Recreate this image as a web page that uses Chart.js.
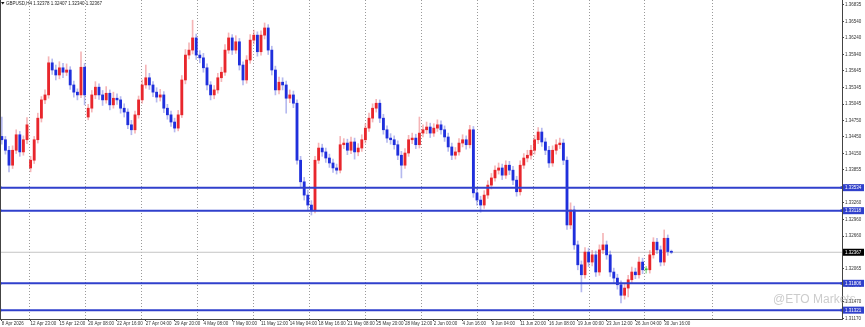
<!DOCTYPE html>
<html>
<head>
<meta charset="utf-8">
<script src="https://cdn.jsdelivr.net/npm/chart.js@4.4.1/dist/chart.umd.min.js"></script>
<style>
    body { margin: 0; background: #fff; }
    #wrap { position: relative; width: 865px; height: 327px; }
    #wm {
        position: absolute; left: 773px; top: 292px;
        font: 12px "Liberation Sans", Arial, sans-serif;
        color: rgba(170, 170, 170, 0.6); white-space: nowrap;
    }
</style>
</head>
<body>
<div id="wrap">
    <canvas id="priceChart"></canvas>
    <div id="wm">@ETO Markets</div>
</div>
<script>
const symbolTitle = "GBPUSD,H4 1.32378 1.32407 1.32340 1.32367";

// etichette tempo, una ogni 8 barre
const timeLabels = [
    "8 Apr 2026", "12 Apr 23:00", "15 Apr 12:00", "20 Apr 08:00", "22 Apr 16:00",
    "27 Apr 04:00", "29 Apr 20:00", "4 May 08:00", "7 May 00:00", "11 May 12:00",
    "14 May 04:00", "18 May 16:00", "21 May 08:00", "25 May 20:00", "28 May 12:00",
    "2 Jun 00:00", "4 Jun 16:00", "9 Jun 04:00", "11 Jun 20:00", "16 Jun 08:00",
    "19 Jun 00:00", "23 Jun 12:00", "26 Jun 04:00", "30 Jun 16:00",
];

const priceTicks = [
    1.31170, 1.31470, 1.31770, 1.32065, 1.32360, 1.32660, 1.32960, 1.33260,
    1.33555, 1.33855, 1.34150, 1.34450, 1.34750, 1.35045, 1.35345, 1.35645,
    1.35940, 1.36240, 1.36540, 1.36835,
];

// livelli orizzontali (blu) e prezzo corrente
const levels = [1.33534, 1.33118, 1.31806, 1.31321];
const lastPrice = 1.32367;

const opens = [
    1.3446, 1.3440, 1.3421, 1.3394, 1.3421, 1.3449, 1.3418, 1.3440, 1.3389, 1.3403,
    1.3440, 1.3479, 1.3512, 1.3521, 1.3579, 1.3566, 1.3557, 1.3570, 1.3562, 1.3566,
    1.3539, 1.3526, 1.3521, 1.3571, 1.3481, 1.3497, 1.3521, 1.3535, 1.3521, 1.3512,
    1.3524, 1.3503, 1.3515, 1.3512, 1.3497, 1.3490, 1.3467, 1.3458, 1.3485, 1.3512,
    1.3539, 1.3552, 1.3539, 1.3526, 1.3517, 1.3521, 1.3497, 1.3485, 1.3472, 1.3461,
    1.3485, 1.3548, 1.3593, 1.3602, 1.3624, 1.3593, 1.3588, 1.3570, 1.3539, 1.3521,
    1.3530, 1.3552, 1.3562, 1.3602, 1.3624, 1.3602, 1.3617, 1.3575, 1.3548, 1.3584,
    1.3620, 1.3629, 1.3599, 1.3629, 1.3642, 1.3602, 1.3566, 1.3530, 1.3544, 1.3539,
    1.3515, 1.3521, 1.3506, 1.3403, 1.3364, 1.3340, 1.3322, 1.3313, 1.3403, 1.3425,
    1.3418, 1.3407, 1.3398, 1.3389, 1.3385, 1.3431, 1.3434, 1.3421, 1.3436, 1.3418,
    1.3425, 1.3440, 1.3461, 1.3479, 1.3497, 1.3506, 1.3479, 1.3458, 1.3443, 1.3440,
    1.3431, 1.3412, 1.3394, 1.3416, 1.3440, 1.3443, 1.3431, 1.3452, 1.3458, 1.3463,
    1.3452, 1.3461, 1.3467, 1.3458, 1.3445, 1.3427, 1.3412, 1.3418, 1.3434, 1.3440,
    1.3431, 1.3458, 1.3344, 1.3331, 1.3322, 1.3340, 1.3358, 1.3371, 1.3385, 1.3389,
    1.3376, 1.3394, 1.3385, 1.3367, 1.3346, 1.3394, 1.3407, 1.3412, 1.3421, 1.3440,
    1.3454, 1.3436, 1.3421, 1.3398, 1.3421, 1.3431, 1.3434, 1.3403, 1.3286, 1.3313,
    1.3250, 1.3214, 1.3196, 1.3237, 1.3219, 1.3232, 1.3201, 1.3241, 1.3250, 1.3232,
    1.3201, 1.3190, 1.3178, 1.3159, 1.3172, 1.3187, 1.3201, 1.3196, 1.3219, 1.3205,
    1.3205, 1.3232, 1.3255, 1.3241, 1.3219, 1.3262, 1.32378,
];

const highs = [
    1.3481, 1.3446, 1.3428, 1.3429, 1.3458, 1.3455, 1.3447, 1.3480, 1.3410, 1.3446,
    1.3488, 1.3518, 1.3530, 1.3590, 1.3586, 1.3575, 1.3581, 1.3578, 1.3577, 1.3572,
    1.3546, 1.3532, 1.3599, 1.3578, 1.3504, 1.3529, 1.3545, 1.3541, 1.3529, 1.3536,
    1.3530, 1.3526, 1.3523, 1.3518, 1.3505, 1.3496, 1.3475, 1.3492, 1.3519, 1.3548,
    1.3575, 1.3560, 1.3545, 1.3534, 1.3531, 1.3527, 1.3504, 1.3492, 1.3479, 1.3493,
    1.3556, 1.3603, 1.3615, 1.3656, 1.3631, 1.3601, 1.3596, 1.3577, 1.3545, 1.3538,
    1.3560, 1.3571, 1.3612, 1.3633, 1.3630, 1.3628, 1.3623, 1.3581, 1.3592, 1.3630,
    1.3638, 1.3635, 1.3637, 1.3651, 1.3648, 1.3609, 1.3573, 1.3553, 1.3552, 1.3546,
    1.3530, 1.3528, 1.3512, 1.3410, 1.3372, 1.3349, 1.3330, 1.3410, 1.3434, 1.3432,
    1.3425, 1.3414, 1.3405, 1.3396, 1.3446, 1.3442, 1.3441, 1.3445, 1.3443, 1.3433,
    1.3449, 1.3469, 1.3488, 1.3505, 1.3513, 1.3512, 1.3486, 1.3465, 1.3451, 1.3447,
    1.3438, 1.3419, 1.3424, 1.3448, 1.3452, 1.3450, 1.3481, 1.3467, 1.3472, 1.3470,
    1.3469, 1.3476, 1.3474, 1.3465, 1.3452, 1.3434, 1.3426, 1.3442, 1.3449, 1.3447,
    1.3466, 1.3464, 1.3352, 1.3338, 1.3348, 1.3366, 1.3379, 1.3393, 1.3398, 1.3396,
    1.3402, 1.3401, 1.3392, 1.3374, 1.3402, 1.3415, 1.3421, 1.3430, 1.3448, 1.3462,
    1.3461, 1.3443, 1.3428, 1.3429, 1.3440, 1.3443, 1.3441, 1.3409, 1.3326, 1.3320,
    1.3257, 1.3221, 1.3245, 1.3244, 1.3240, 1.3239, 1.3250, 1.3271, 1.3257, 1.3239,
    1.3208, 1.3197, 1.3185, 1.3180, 1.3195, 1.3210, 1.3208, 1.3228, 1.3226, 1.3211,
    1.3240, 1.3263, 1.3262, 1.3248, 1.3277, 1.3268, 1.32407,
];

const lows = [
    1.3432, 1.3414, 1.3382, 1.3388, 1.3415, 1.3410, 1.3412, 1.3433, 1.3382, 1.3397,
    1.3434, 1.3472, 1.3505, 1.3515, 1.3558, 1.3548, 1.3550, 1.3552, 1.3556, 1.3531,
    1.3517, 1.3512, 1.3516, 1.3503, 1.3476, 1.3490, 1.3514, 1.3513, 1.3502, 1.3506,
    1.3494, 1.3497, 1.3504, 1.3488, 1.3481, 1.3460, 1.3449, 1.3452, 1.3479, 1.3506,
    1.3533, 1.3531, 1.3518, 1.3508, 1.3510, 1.3489, 1.3477, 1.3464, 1.3454, 1.3456,
    1.3480, 1.3541, 1.3586, 1.3595, 1.3585, 1.3579, 1.3562, 1.3530, 1.3512, 1.3514,
    1.3524, 1.3545, 1.3556, 1.3596, 1.3594, 1.3596, 1.3566, 1.3539, 1.3542, 1.3578,
    1.3613, 1.3591, 1.3593, 1.3622, 1.3594, 1.3557, 1.3521, 1.3523, 1.3530, 1.3488,
    1.3507, 1.3498, 1.3396, 1.3355, 1.3331, 1.3313, 1.3304, 1.3308, 1.3397, 1.3410,
    1.3399, 1.3390, 1.3381, 1.3378, 1.3380, 1.3424, 1.3413, 1.3415, 1.3405, 1.3411,
    1.3419, 1.3434, 1.3455, 1.3472, 1.3490, 1.3471, 1.3450, 1.3435, 1.3432, 1.3423,
    1.3404, 1.3371, 1.3388, 1.3410, 1.3433, 1.3424, 1.3425, 1.3445, 1.3451, 1.3444,
    1.3446, 1.3455, 1.3450, 1.3437, 1.3419, 1.3404, 1.3405, 1.3412, 1.3427, 1.3423,
    1.3425, 1.3336, 1.3322, 1.3309, 1.3316, 1.3334, 1.3351, 1.3365, 1.3378, 1.3368,
    1.3370, 1.3377, 1.3359, 1.3338, 1.3340, 1.3388, 1.3400, 1.3405, 1.3414, 1.3433,
    1.3428, 1.3413, 1.3390, 1.3392, 1.3414, 1.3424, 1.3395, 1.3278, 1.3279, 1.3242,
    1.3205, 1.3165, 1.3190, 1.3211, 1.3212, 1.3193, 1.3195, 1.3234, 1.3224, 1.3193,
    1.3182, 1.3170, 1.3145, 1.3152, 1.3156, 1.3181, 1.3189, 1.3190, 1.3198, 1.3199,
    1.3199, 1.3226, 1.3234, 1.3212, 1.3213, 1.3231, 1.32340,
];

const closes = [
    1.3440, 1.3421, 1.3394, 1.3421, 1.3449, 1.3418, 1.3440, 1.3467, 1.3403, 1.3440,
    1.3479, 1.3512, 1.3521, 1.3579, 1.3566, 1.3557, 1.3570, 1.3562, 1.3566, 1.3539,
    1.3526, 1.3521, 1.3571, 1.3521, 1.3497, 1.3521, 1.3535, 1.3521, 1.3512, 1.3524,
    1.3503, 1.3515, 1.3512, 1.3497, 1.3490, 1.3467, 1.3458, 1.3485, 1.3512, 1.3539,
    1.3552, 1.3539, 1.3526, 1.3517, 1.3521, 1.3497, 1.3485, 1.3472, 1.3461, 1.3485,
    1.3548, 1.3593, 1.3602, 1.3624, 1.3593, 1.3588, 1.3570, 1.3539, 1.3521, 1.3530,
    1.3552, 1.3562, 1.3602, 1.3624, 1.3602, 1.3617, 1.3575, 1.3548, 1.3584, 1.3620,
    1.3629, 1.3599, 1.3629, 1.3642, 1.3602, 1.3566, 1.3530, 1.3544, 1.3539, 1.3515,
    1.3521, 1.3506, 1.3403, 1.3364, 1.3340, 1.3322, 1.3313, 1.3403, 1.3425, 1.3418,
    1.3407, 1.3398, 1.3389, 1.3385, 1.3431, 1.3434, 1.3421, 1.3436, 1.3418, 1.3425,
    1.3440, 1.3461, 1.3479, 1.3497, 1.3506, 1.3479, 1.3458, 1.3443, 1.3440, 1.3431,
    1.3412, 1.3394, 1.3416, 1.3440, 1.3443, 1.3431, 1.3452, 1.3458, 1.3463, 1.3452,
    1.3461, 1.3467, 1.3458, 1.3445, 1.3427, 1.3412, 1.3418, 1.3434, 1.3440, 1.3431,
    1.3458, 1.3344, 1.3331, 1.3322, 1.3340, 1.3358, 1.3371, 1.3385, 1.3389, 1.3376,
    1.3394, 1.3385, 1.3367, 1.3346, 1.3394, 1.3407, 1.3412, 1.3421, 1.3440, 1.3454,
    1.3436, 1.3421, 1.3398, 1.3421, 1.3431, 1.3434, 1.3403, 1.3286, 1.3313, 1.3250,
    1.3214, 1.3196, 1.3237, 1.3219, 1.3232, 1.3201, 1.3241, 1.3250, 1.3232, 1.3201,
    1.3190, 1.3178, 1.3159, 1.3172, 1.3187, 1.3201, 1.3196, 1.3219, 1.3205, 1.3205,
    1.3232, 1.3255, 1.3241, 1.3219, 1.3262, 1.3238, 1.32367,
];

const barsPerLabel = 8;
const xMin = -0.5;
const xMax = 233.39; // spazio vuoto a destra come in MT4
// griglia verticale tratteggiata (in unita' barra)
const gridStart = 7.83;
const gridStep = 15.53;
const gridCount = 12;
const gridLast = 197.28;

const fontFamily = '"Liberation Sans", Arial, sans-serif';
const upColor = "#e8262c";
const downColor = "#1f2fdc";
const dojiColor = "#3fbf3f";
const levelColor = "#3040cc";

function bodyColor(i) {
    if (closes[i] > opens[i]) return upColor;
    if (closes[i] < opens[i]) return downColor;
    return dojiColor;
}
function wickColor(i) {
    if (closes[i] > opens[i]) return "rgba(232, 90, 95, 0.45)";
    if (closes[i] < opens[i]) return "rgba(90, 100, 220, 0.45)";
    return "rgba(63, 191, 63, 0.5)";
}

const bodies = closes.map((c, i) => ({ x: i, y: [opens[i], c] }));
const wicks = closes.map((c, i) => ({ x: i, y: [lows[i], highs[i]] }));

const levelDatasets = levels.map((v) => ({
    type: "line",
    xAxisID: "x",
    data: [{ x: xMin, y: v }, { x: xMax, y: v }],
    borderColor: levelColor,
    borderWidth: 2,
    pointStyle: "rect",
    pointRadius: 2,
    pointHoverRadius: 2,
    pointBackgroundColor: levelColor,
    pointBorderWidth: 0,
    order: -1,
}));

// box prezzi sull'asse e intestazione in alto a sinistra
const overlayPlugin = {
    id: "overlay",
    afterDraw(chart) {
        const { ctx, chartArea, scales } = chart;
        const y = scales.y;
        ctx.save();
        // bordo sinistro
        ctx.strokeStyle = "#444";
        ctx.lineWidth = 1;
        ctx.beginPath();
        ctx.moveTo(chartArea.left + 0.5, chartArea.top);
        ctx.lineTo(chartArea.left + 0.5, chartArea.bottom);
        ctx.stroke();

        ctx.font = "4.5px " + fontFamily;
        ctx.textBaseline = "middle";
        const boxes = levels.map((v) => [v, levelColor]).concat([[lastPrice, "#000"]]);
        boxes.forEach(([v, col]) => {
            const py = y.getPixelForValue(v);
            ctx.fillStyle = col;
            ctx.fillRect(chartArea.right + 1, py - 3.5, 21, 7);
            ctx.fillStyle = "#fff";
            ctx.fillText(v.toFixed(5), chartArea.right + 3, py + 0.3);
        });

        ctx.fillStyle = "#111";
        ctx.beginPath();
        ctx.moveTo(1, 2);
        ctx.lineTo(4.5, 2);
        ctx.lineTo(2.75, 4.5);
        ctx.fill();
        ctx.fillStyle = "#222";
        ctx.fillText(symbolTitle, 6, 3.5);
        ctx.restore();
    },
};

document.addEventListener("DOMContentLoaded", function () {
    const ctx = document.getElementById("priceChart").getContext("2d");

    new Chart(ctx, {
        type: "bar",
        data: {
            datasets: [
                {
                    label: "body",
                    xAxisID: "x",
                    data: bodies,
                    backgroundColor: closes.map((c, i) => bodyColor(i)),
                    barThickness: 2.2,
                    minBarLength: 1,
                    grouped: false,
                    order: 0,
                },
                {
                    label: "wick",
                    xAxisID: "x",
                    data: wicks,
                    backgroundColor: closes.map((c, i) => wickColor(i)),
                    barThickness: 1,
                    grouped: false,
                    order: 1,
                },
                {
                    type: "line",
                    label: "last",
                    xAxisID: "x",
                    data: [{ x: xMin, y: lastPrice }, { x: xMax, y: lastPrice }],
                    borderColor: "#c4c4c4",
                    borderWidth: 1,
                    pointRadius: 0,
                    pointHoverRadius: 0,
                    order: 5,
                },
                ...levelDatasets,
            ],
        },
        options: {
            responsive: true,
            maintainAspectRatio: false,
            animation: false,
            devicePixelRatio: 1,
            layout: { padding: 0, autoPadding: false },
            plugins: {
                legend: { display: false },
                tooltip: { enabled: false },
            },
            scales: {
                x: {
                    type: "linear",
                    position: "bottom",
                    offset: false,
                    min: xMin,
                    max: xMax,
                    afterBuildTicks: (s) => {
                        s.ticks = timeLabels.map((t, k) => ({ value: k * barsPerLabel }));
                    },
                    ticks: {
                        autoSkip: false,
                        maxRotation: 0,
                        minRotation: 0,
                        align: "start",
                        padding: 0,
                        color: "#333",
                        font: { size: 4.5, family: fontFamily },
                        callback: (v) => timeLabels[Math.round(v / barsPerLabel)],
                    },
                    grid: { offset: false, drawOnChartArea: false, drawTicks: true, tickLength: 2, tickColor: "#444" },
                    border: { color: "#444", width: 1 },
                    afterFit: (s) => {
                        s.height = 8;
                        s.paddingLeft = 0;
                        s.paddingRight = 0;
                    },
                },
                x2: {
                    type: "linear",
                    position: "top",
                    offset: false,
                    min: xMin,
                    max: xMax,
                    afterBuildTicks: (s) => {
                        const t = [];
                        for (let k = 0; k < gridCount; k++) t.push({ value: gridStart + k * gridStep });
                        t.push({ value: gridLast });
                        s.ticks = t;
                    },
                    ticks: { display: false },
                    grid: { offset: false, drawTicks: false, color: "#9a9a9a", lineWidth: 1 },
                    border: { display: false, dash: [1, 2] },
                    afterFit: (s) => {
                        s.height = 0;
                        s.paddingLeft = 0;
                        s.paddingRight = 0;
                    },
                },
                y: {
                    position: "right",
                    min: 1.31161,
                    max: 1.36925,
                    afterBuildTicks: (s) => {
                        s.ticks = priceTicks.map((v) => ({ value: v }));
                    },
                    ticks: {
                        autoSkip: false,
                        padding: 1,
                        color: "#333",
                        font: { size: 4.5, family: fontFamily },
                        callback: (v) => v.toFixed(5),
                    },
                    grid: { drawOnChartArea: false, tickLength: 2, tickColor: "#444" },
                    border: { color: "#444", width: 1 },
                    afterFit: (s) => {
                        s.width = 23;
                        s.paddingTop = 0;
                        s.paddingBottom = 0;
                    },
                },
            },
        },
        plugins: [overlayPlugin],
    });
});
</script>
</body>
</html>
